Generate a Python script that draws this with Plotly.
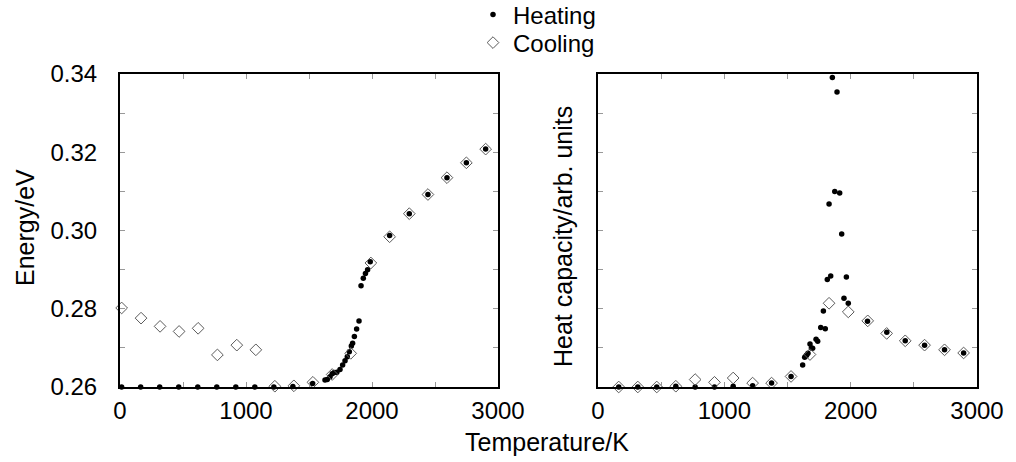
import plotly.graph_objects as go

# ---- data ----
heat_T_E = [13, 164, 315, 466, 617, 768, 919, 1070, 1221, 1372, 1529,
            1627, 1645, 1667, 1684, 1700, 1721, 1746, 1767, 1786, 1804, 1820,
            1836, 1846, 1860, 1878, 1897, 1913, 1931, 1948, 1965, 1986,
            2140, 2296, 2444, 2595, 2749, 2902]
heat_E = [0.2600, 0.2600, 0.2600, 0.2600, 0.2600, 0.2600, 0.2600, 0.2600, 0.2600, 0.2601, 0.2609,
          0.2618, 0.2619, 0.2626, 0.2634, 0.2637, 0.2638, 0.2645, 0.2656, 0.2667, 0.2677, 0.2690,
          0.2705, 0.2712, 0.2729, 0.2748, 0.2769, 0.2859, 0.2878, 0.2890, 0.2900, 0.2920,
          0.2987, 0.3043, 0.3092, 0.3135, 0.3173, 0.3208]

cool_T_E = [13, 167, 318, 469, 620, 773, 927, 1078, 1229, 1380, 1531, 1684, 1831,
            1991, 2140, 2296, 2444, 2595, 2749, 2902]
cool_E = [0.2802, 0.2776, 0.2755, 0.2742, 0.2750, 0.2682, 0.2707, 0.2695, 0.2602, 0.2603,
          0.2612, 0.2632, 0.2686, 0.2917, 0.2984, 0.3043, 0.3092, 0.3135, 0.3173, 0.3208]

heat_T_C = [164, 315, 465, 616, 769, 922, 1070, 1224, 1374, 1528, 1620, 1636, 1647, 1652,
            1662, 1678, 1689, 1699, 1726, 1739, 1763, 1784, 1799, 1815, 1829, 1842, 1855,
            1874, 1892, 1913, 1929, 1947, 1966, 1981, 2133, 2286, 2432, 2585, 2743, 2894]
heat_C = [0, 0, 0, 0.02, 0, 0, 0.02, 0.03, 0.10, 0.27, 0.56, 0.76, 0.80, 0.82,
          0.86, 1.10, 1.00, 0.99, 1.22, 1.17, 1.52, 1.94, 1.49, 2.75, 4.68, 2.84, 7.91,
          5.00, 7.54, 4.96, 3.91, 2.27, 2.81, 2.14, 1.68, 1.40, 1.18, 1.07, 0.95, 0.87]

cool_T_C = [164, 315, 465, 616, 769, 922, 1070, 1224, 1374, 1528, 1678, 1829, 1981,
            2135, 2285, 2432, 2585, 2743, 2894]
cool_C = [0, 0, 0, 0.02, 0.19, 0.12, 0.23, 0.10, 0.10, 0.27, 0.83, 2.14, 1.92,
          1.69, 1.37, 1.18, 1.07, 0.95, 0.87]

x_tickvals = [0, 500, 1000, 1500, 2000, 2500, 3000]
x_ticktext = ["0", "", "1000", "", "2000", "", "3000"]
yE_tickvals = [0.26, 0.27, 0.28, 0.29, 0.30, 0.31, 0.32, 0.33, 0.34]
yE_ticktext = ["0.26", "", "0.28", "", "0.30", "", "0.32", "", "0.34"]
yC_tickvals = [0, 1, 2, 3, 4, 5, 6, 7, 8]

FONT = "Liberation Sans, Arial, sans-serif"
W, H = 1016, 462

dot = dict(symbol="circle", size=5.5, color="black", line=dict(width=0))
dia = dict(symbol="diamond-open", size=9, color="#5a5a5a", line=dict(width=1, color="#5a5a5a"))

fig = go.Figure()
fig.add_trace(go.Scatter(x=heat_T_E, y=heat_E, mode="markers", marker=dot, name="Heating",
                         xaxis="x", yaxis="y", cliponaxis=False, legend="legend"))
fig.add_trace(go.Scatter(x=cool_T_E, y=cool_E, mode="markers", marker=dia, name="Cooling",
                         xaxis="x", yaxis="y", cliponaxis=False, legend="legend2"))
fig.add_trace(go.Scatter(x=heat_T_C, y=heat_C, mode="markers", marker=dot, name="Heating",
                         xaxis="x2", yaxis="y2", showlegend=False, cliponaxis=False))
fig.add_trace(go.Scatter(x=cool_T_C, y=cool_C, mode="markers", marker=dia, name="Cooling",
                         xaxis="x2", yaxis="y2", showlegend=False, cliponaxis=False))

common = dict(showline=True, linecolor="black", linewidth=2, mirror="ticks",
              ticks="inside", ticklen=5, tickwidth=1, tickcolor="#999999",
              showgrid=False, zeroline=False, automargin=False,
              tickfont=dict(family=FONT, size=24, color="black"))

leg = dict(xanchor="left", yanchor="middle", bgcolor="rgba(0,0,0,0)",
           font=dict(family=FONT, size=24, color="black"), itemwidth=30, borderwidth=0)

yb, yt = 1 - 387 / H, 1 - 74 / H
fig.update_layout(
    width=W, height=H, margin=dict(l=0, r=0, t=0, b=0, autoexpand=False),
    paper_bgcolor="white", plot_bgcolor="white",
    font=dict(family=FONT, size=24, color="black"),
    xaxis=dict(domain=[120 / W, 498 / W], range=[0, 3000], anchor="y",
               tickvals=x_tickvals, ticktext=x_ticktext, ticklabelstandoff=1, **common),
    yaxis=dict(domain=[yb, yt], range=[0.26, 0.34], anchor="x",
               tickvals=yE_tickvals, ticktext=yE_ticktext, ticklabelstandoff=16, **common),
    xaxis2=dict(domain=[598 / W, 977 / W], range=[0, 3000], anchor="y2",
                tickvals=x_tickvals, ticktext=x_ticktext, ticklabelstandoff=1, **common),
    yaxis2=dict(domain=[yb, yt], range=[0, 8], anchor="x2",
                tickvals=yC_tickvals, showticklabels=False, **common),
    legend=dict(x=473 / W, y=1 - 15 / H, **leg),
    legend2=dict(x=473 / W, y=1 - 43 / H, **leg),
    annotations=[
        dict(text="Energy/eV", x=25 / W, y=1 - 228 / H, xref="paper", yref="paper",
             textangle=-90, showarrow=False, xanchor="center", yanchor="middle",
             font=dict(family=FONT, size=25)),
        dict(text="Heat capacity/arb. units", x=563 / W, y=1 - 237 / H, xref="paper", yref="paper",
             textangle=-90, showarrow=False, xanchor="center", yanchor="middle",
             font=dict(family=FONT, size=25)),
        dict(text="Temperature/K", x=463 / W, y=1 - 442 / H, xref="paper", yref="paper",
             showarrow=False, xanchor="left", yanchor="middle",
             font=dict(family=FONT, size=25)),
    ],
)

fig.write_html("out.html")
